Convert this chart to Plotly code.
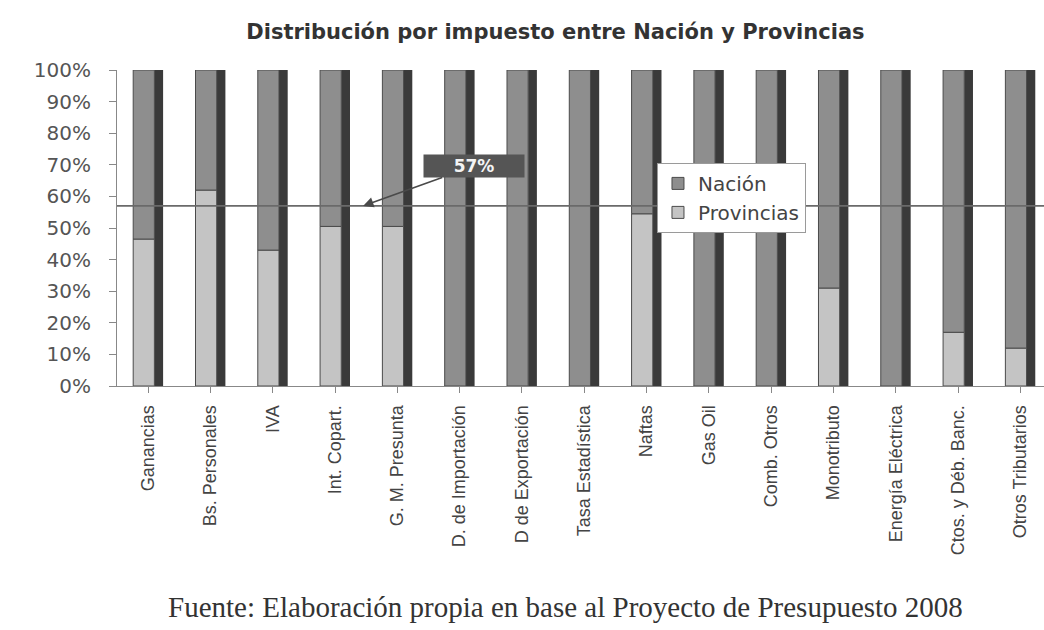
import plotly.graph_objects as go

# Impuestos y participación (%) de Provincias y Nación en cada uno
impuestos = [
    "Ganancias", "Bs. Personales", "IVA", "Int. Copart.", "G. M. Presunta",
    "D. de Importación", "D de Exportación", "Tasa Estadística", "Naftas",
    "Gas Oil", "Comb. Otros", "Monotributo", "Energía Eléctrica",
    "Ctos. y Déb. Banc.", "Otros Tributarios",
]
provincias = [46.5, 62, 43, 50.5, 50.5, 0, 0, 0, 54.5, 0, 0, 31, 0, 17, 12]
nacion = [53.5, 38, 57, 49.5, 49.5, 100, 100, 100, 45.5, 100, 100, 69, 100, 83, 88]
total = [100] * len(impuestos)
promedio_provincias = 57

x_idx = list(range(len(impuestos)))

C_NACION = "#8e8e8e"
C_PROV = "#c4c4c4"
C_SHADOW = "#3a3a3a"
C_EDGE = "#4a4a4a"

fig = go.Figure()

# lateral oscuro de cada columna (efecto 3D)
fig.add_trace(go.Bar(
    x=x_idx, y=total, base=0, offset=0.10, width=0.14,
    marker=dict(color=C_SHADOW, line=dict(width=0)),
    showlegend=False, hoverinfo="skip",
))
fig.add_trace(go.Bar(
    x=x_idx, y=provincias, base=0, offset=-0.24, width=0.34,
    name="Provincias",
    marker=dict(color=C_PROV, line=dict(color=C_EDGE, width=1)),
))
fig.add_trace(go.Bar(
    x=x_idx, y=nacion, base=provincias, offset=-0.24, width=0.34,
    name="Nación",
    marker=dict(color=C_NACION, line=dict(color=C_EDGE, width=1)),
))

x_max = 14.38

# línea del promedio
fig.add_shape(
    type="line", xref="x", yref="y",
    x0=-0.5, x1=x_max, y0=promedio_provincias, y1=promedio_provincias,
    line=dict(color="#6a6a6a", width=1.6), layer="above",
)
fig.add_annotation(
    x=3.45, y=promedio_provincias, xref="x", yref="y",
    text=f"<b>{promedio_provincias}%</b>",
    showarrow=True, ax=111, ay=-40,
    arrowhead=2, arrowsize=1.3, arrowwidth=1.6, arrowcolor="#4a4a4a",
    font=dict(family="DejaVu Sans", size=17, color="#f4f4f4"),
    bgcolor="#555555", width=100, height=22, borderpad=0,
)

fig.update_layout(
    width=1044, height=630,
    margin=dict(l=117, r=0, t=70, b=244),
    barmode="overlay",
    plot_bgcolor="white", paper_bgcolor="white",
    title=dict(
        text="<b>Distribución por impuesto entre Nación y Provincias</b>",
        x=0.532, xanchor="center", y=0.949, yanchor="middle",
        font=dict(family="DejaVu Sans", size=21, color="#333333"),
    ),
    legend=dict(
        x=0.5825, y=0.706, xanchor="left", yanchor="top",
        traceorder="reversed",
        bgcolor="white", bordercolor="#9a9a9a", borderwidth=1,
        font=dict(family="DejaVu Sans", size=20, color="#444444"),
    ),
    showlegend=True,
)

fig.update_xaxes(
    range=[-0.5, x_max],
    tickmode="array", tickvals=x_idx, ticktext=impuestos,
    tickangle=-90, tickson="boundaries",
    ticks="outside", ticklen=6, tickcolor="#888888",
    showline=True, linecolor="#888888", linewidth=1,
    showgrid=False, zeroline=False,
    ticklabelstandoff=5,
    tickfont=dict(family="Liberation Sans", size=18, color="#444444"),
)
fig.update_yaxes(
    range=[0, 100], tickmode="linear", tick0=0, dtick=10,
    ticksuffix="%",
    ticks="outside", ticklen=7, tickcolor="#888888",
    showline=True, linecolor="#888888", linewidth=1,
    showgrid=False, zeroline=False,
    ticklabelstandoff=14,
    tickfont=dict(family="DejaVu Sans", size=20, color="#555555"),
)

fig.add_annotation(
    text="Fuente: Elaboración propia en base al Proyecto de Presupuesto 2008",
    xref="paper", yref="paper", x=0.484, y=-0.70,
    xanchor="center", yanchor="middle", showarrow=False,
    font=dict(family="Liberation Serif", size=29, color="#333333"),
)

fig.write_html("out.html")
